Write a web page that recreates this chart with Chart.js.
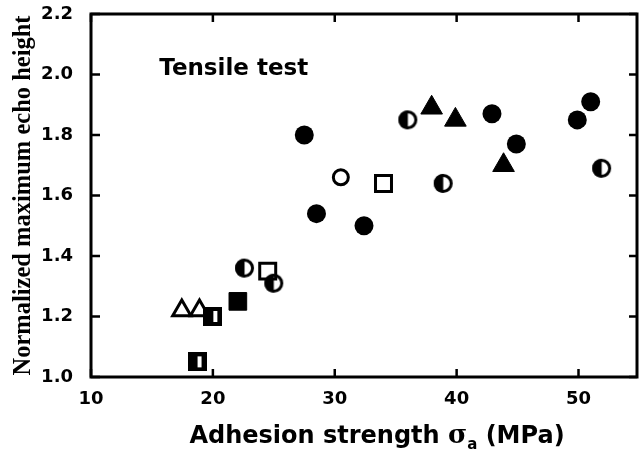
<!DOCTYPE html>
<html>
<head>
<meta charset="utf-8">
<script src="https://cdn.jsdelivr.net/npm/chart.js@4.4.0/dist/chart.umd.min.js"></script>
<style>
body { margin: 0; background: #fff; }
</style>
</head>
<body>
<canvas id="canvas1" width="639" height="452"></canvas>
<script>
/* Values: [adhesion strength (MPa), normalized echo height] */
/////////////////////////////////////////////////////////////////
const filledCircles = [[27.5, 1.80], [28.5, 1.54], [32.4, 1.50], [42.9, 1.87],
    [44.9, 1.77], [49.9, 1.85], [51.0, 1.91]];
const openCircles = [[30.5, 1.66]];
const halfCircles = [[22.6, 1.36], [25.0, 1.31], [36.0, 1.85], [38.9, 1.64], [51.9, 1.69]];
const openSquares = [[24.5, 1.35], [34.0, 1.64]];
const filledSquares = [[22.05, 1.25]];
const halfSquares = [[18.7, 1.05], [20.0, 1.20]];
const openTriangles = [[17.45, 1.22], [18.9, 1.22]];
const filledTriangles = [[37.95, 1.89], [39.9, 1.85], [43.85, 1.70]];

const xTicks = [10, 20, 30, 40, 50];
const yTicks = [1.0, 1.2, 1.4, 1.6, 1.8, 2.0, 2.2];
const xLabel = ['Adhesion strength ', 'σ', 'a', ' (MPa)'];
const yLabel = 'Normalized maximum echo height';
const note = 'Tensile test';

/* Half filled markers drawn on small canvases, used as point styles. */
/////////////////////////////////////////////////////////////////
function halfCircle() {
    let c = document.createElement('canvas');
    c.width = 21; c.height = 21;
    let g = c.getContext('2d');
    g.fillStyle = '#000';
    g.beginPath();
    g.arc(10.5, 10.5, 9.5, 0.5 * Math.PI, 1.5 * Math.PI);
    g.fill();
    g.lineWidth = 3;
    g.beginPath();
    g.arc(10.5, 10.5, 8, 0, 2 * Math.PI);
    g.stroke();
    return c;
}
function halfSquare() {
    let c = document.createElement('canvas');
    c.width = 19; c.height = 19;
    let g = c.getContext('2d');
    g.fillStyle = '#000';
    g.fillRect(0, 0, 19, 19);
    g.fillStyle = '#fff';
    g.fillRect(10, 4, 4, 11);
    return c;
}

function pts(list) {
    return list.map(p => ({x: p[0], y: p[1]}));
}

/* Frame with inward ticks, the note and the axis titles. */
/////////////////////////////////////////////////////////////////
const framePlugin = {
    id: 'frame',
    beforeDatasetsDraw(chart) {
        const {ctx, chartArea: a, scales} = chart;
        ctx.save();
        ctx.strokeStyle = '#000';
        ctx.lineWidth = 3;
        ctx.strokeRect(a.left, a.top, a.right - a.left, a.bottom - a.top);
        ctx.lineWidth = 2.5;
        ctx.beginPath();
        xTicks.forEach(v => {
            let px = scales.x.getPixelForValue(v);
            ctx.moveTo(px, a.bottom); ctx.lineTo(px, a.bottom - 8);
            ctx.moveTo(px, a.top); ctx.lineTo(px, a.top + 8);
        });
        yTicks.forEach(v => {
            let py = scales.y.getPixelForValue(v);
            ctx.moveTo(a.left, py); ctx.lineTo(a.left + 9, py);
            ctx.moveTo(a.right, py); ctx.lineTo(a.right - 8, py);
        });
        ctx.stroke();
        ctx.restore();
    },
    afterDraw(chart) {
        const {ctx, scales} = chart;
        ctx.save();
        ctx.fillStyle = '#000';
        ctx.textBaseline = 'alphabetic';
        // note inside the plot
        ctx.font = 'bold 23px "DejaVu Sans"';
        ctx.fillText(note, scales.x.getPixelForValue(15.6), scales.y.getPixelForValue(2.0));

        // x title with subscript
        const big = 'bold 24px "DejaVu Sans"';
        const sig = 'bold 26px "DejaVu Serif"';
        const sub = 'bold 15px "DejaVu Sans"';
        ctx.font = big;
        let w0 = ctx.measureText(xLabel[0]).width;
        let w3 = ctx.measureText(xLabel[3]).width;
        ctx.font = sig;
        let w1 = ctx.measureText(xLabel[1]).width;
        ctx.font = sub;
        let w2 = ctx.measureText(xLabel[2]).width;
        let x = 377 - (w0 + w1 + w2 + w3) / 2;
        let base = 443;
        ctx.font = big; ctx.fillText(xLabel[0], x, base); x += w0;
        ctx.font = sig; ctx.fillText(xLabel[1], x, base); x += w1;
        ctx.font = sub; ctx.fillText(xLabel[2], x, base + 6); x += w2;
        ctx.font = big; ctx.fillText(xLabel[3], x, base);
        ctx.restore();
    }
};

/////////////////////////////////////////////////////////////////
const ctx = document.getElementById('canvas1');
const chart1 = new Chart(ctx, {
    type: 'scatter',
    data: {
        datasets: [
            {label: 'filled circle', data: pts(filledCircles), pointStyle: 'circle',
                pointRadius: 9.5, backgroundColor: '#000', borderColor: '#000', borderWidth: 0},
            {label: 'open circle', data: pts(openCircles), pointStyle: 'circle',
                pointRadius: 7.5, backgroundColor: '#fff', borderColor: '#000', borderWidth: 3},
            {label: 'half circle', data: pts(halfCircles), pointStyle: halfCircle()},
            {label: 'open square', data: pts(openSquares), pointStyle: 'rect',
                pointRadius: 11.3, backgroundColor: '#fff', borderColor: '#000', borderWidth: 3},
            {label: 'filled square', data: pts(filledSquares), pointStyle: 'rect',
                pointRadius: 12.5, backgroundColor: '#000', borderColor: '#000', borderWidth: 1},
            {label: 'half square', data: pts(halfSquares), pointStyle: halfSquare()},
            {label: 'open triangle', data: pts(openTriangles), pointStyle: 'triangle',
                pointRadius: 10.5, backgroundColor: '#fff', borderColor: '#000', borderWidth: 3},
            {label: 'filled triangle', data: pts(filledTriangles), pointStyle: 'triangle',
                pointRadius: 12.5, backgroundColor: '#000', borderColor: '#000', borderWidth: 1}
        ].map(d => Object.assign({clip: false, pointHoverRadius: d.pointRadius}, d))
    },
    options: {
        responsive: false,
        animation: false,
        events: [],
        layout: {autoPadding: false, padding: {top: 14, right: 2, left: 0, bottom: 0}},
        plugins: {legend: {display: false}, tooltip: {enabled: false}},
        scales: {
            x: {
                type: 'linear', min: 10, max: 54.8,
                afterFit: s => { s.height = 75; s.paddingLeft = 0; s.paddingRight = 0; },
                afterBuildTicks: s => { s.ticks = xTicks.map(v => ({value: v})); },
                grid: {display: false},
                border: {display: false},
                ticks: {color: '#000', padding: 4, font: {family: 'DejaVu Sans', size: 18, weight: 'bold'}}
            },
            y: {
                type: 'linear', min: 1.0, max: 2.2,
                afterFit: s => { s.width = 91; s.paddingTop = 0; s.paddingBottom = 0; },
                afterBuildTicks: s => { s.ticks = yTicks.map(v => ({value: v})); },
                grid: {display: false},
                border: {display: false},
                ticks: {color: '#000', padding: 10, font: {family: 'DejaVu Sans', size: 18, weight: 'bold'},
                    callback: v => v.toFixed(1)},
                title: {display: true, text: yLabel, color: '#000', padding: {top: 9, bottom: 0},
                    font: {family: 'Liberation Serif', size: 24.5, weight: 'bold'}}
            }
        }
    },
    plugins: [framePlugin]
});
</script>
</body>
</html>
